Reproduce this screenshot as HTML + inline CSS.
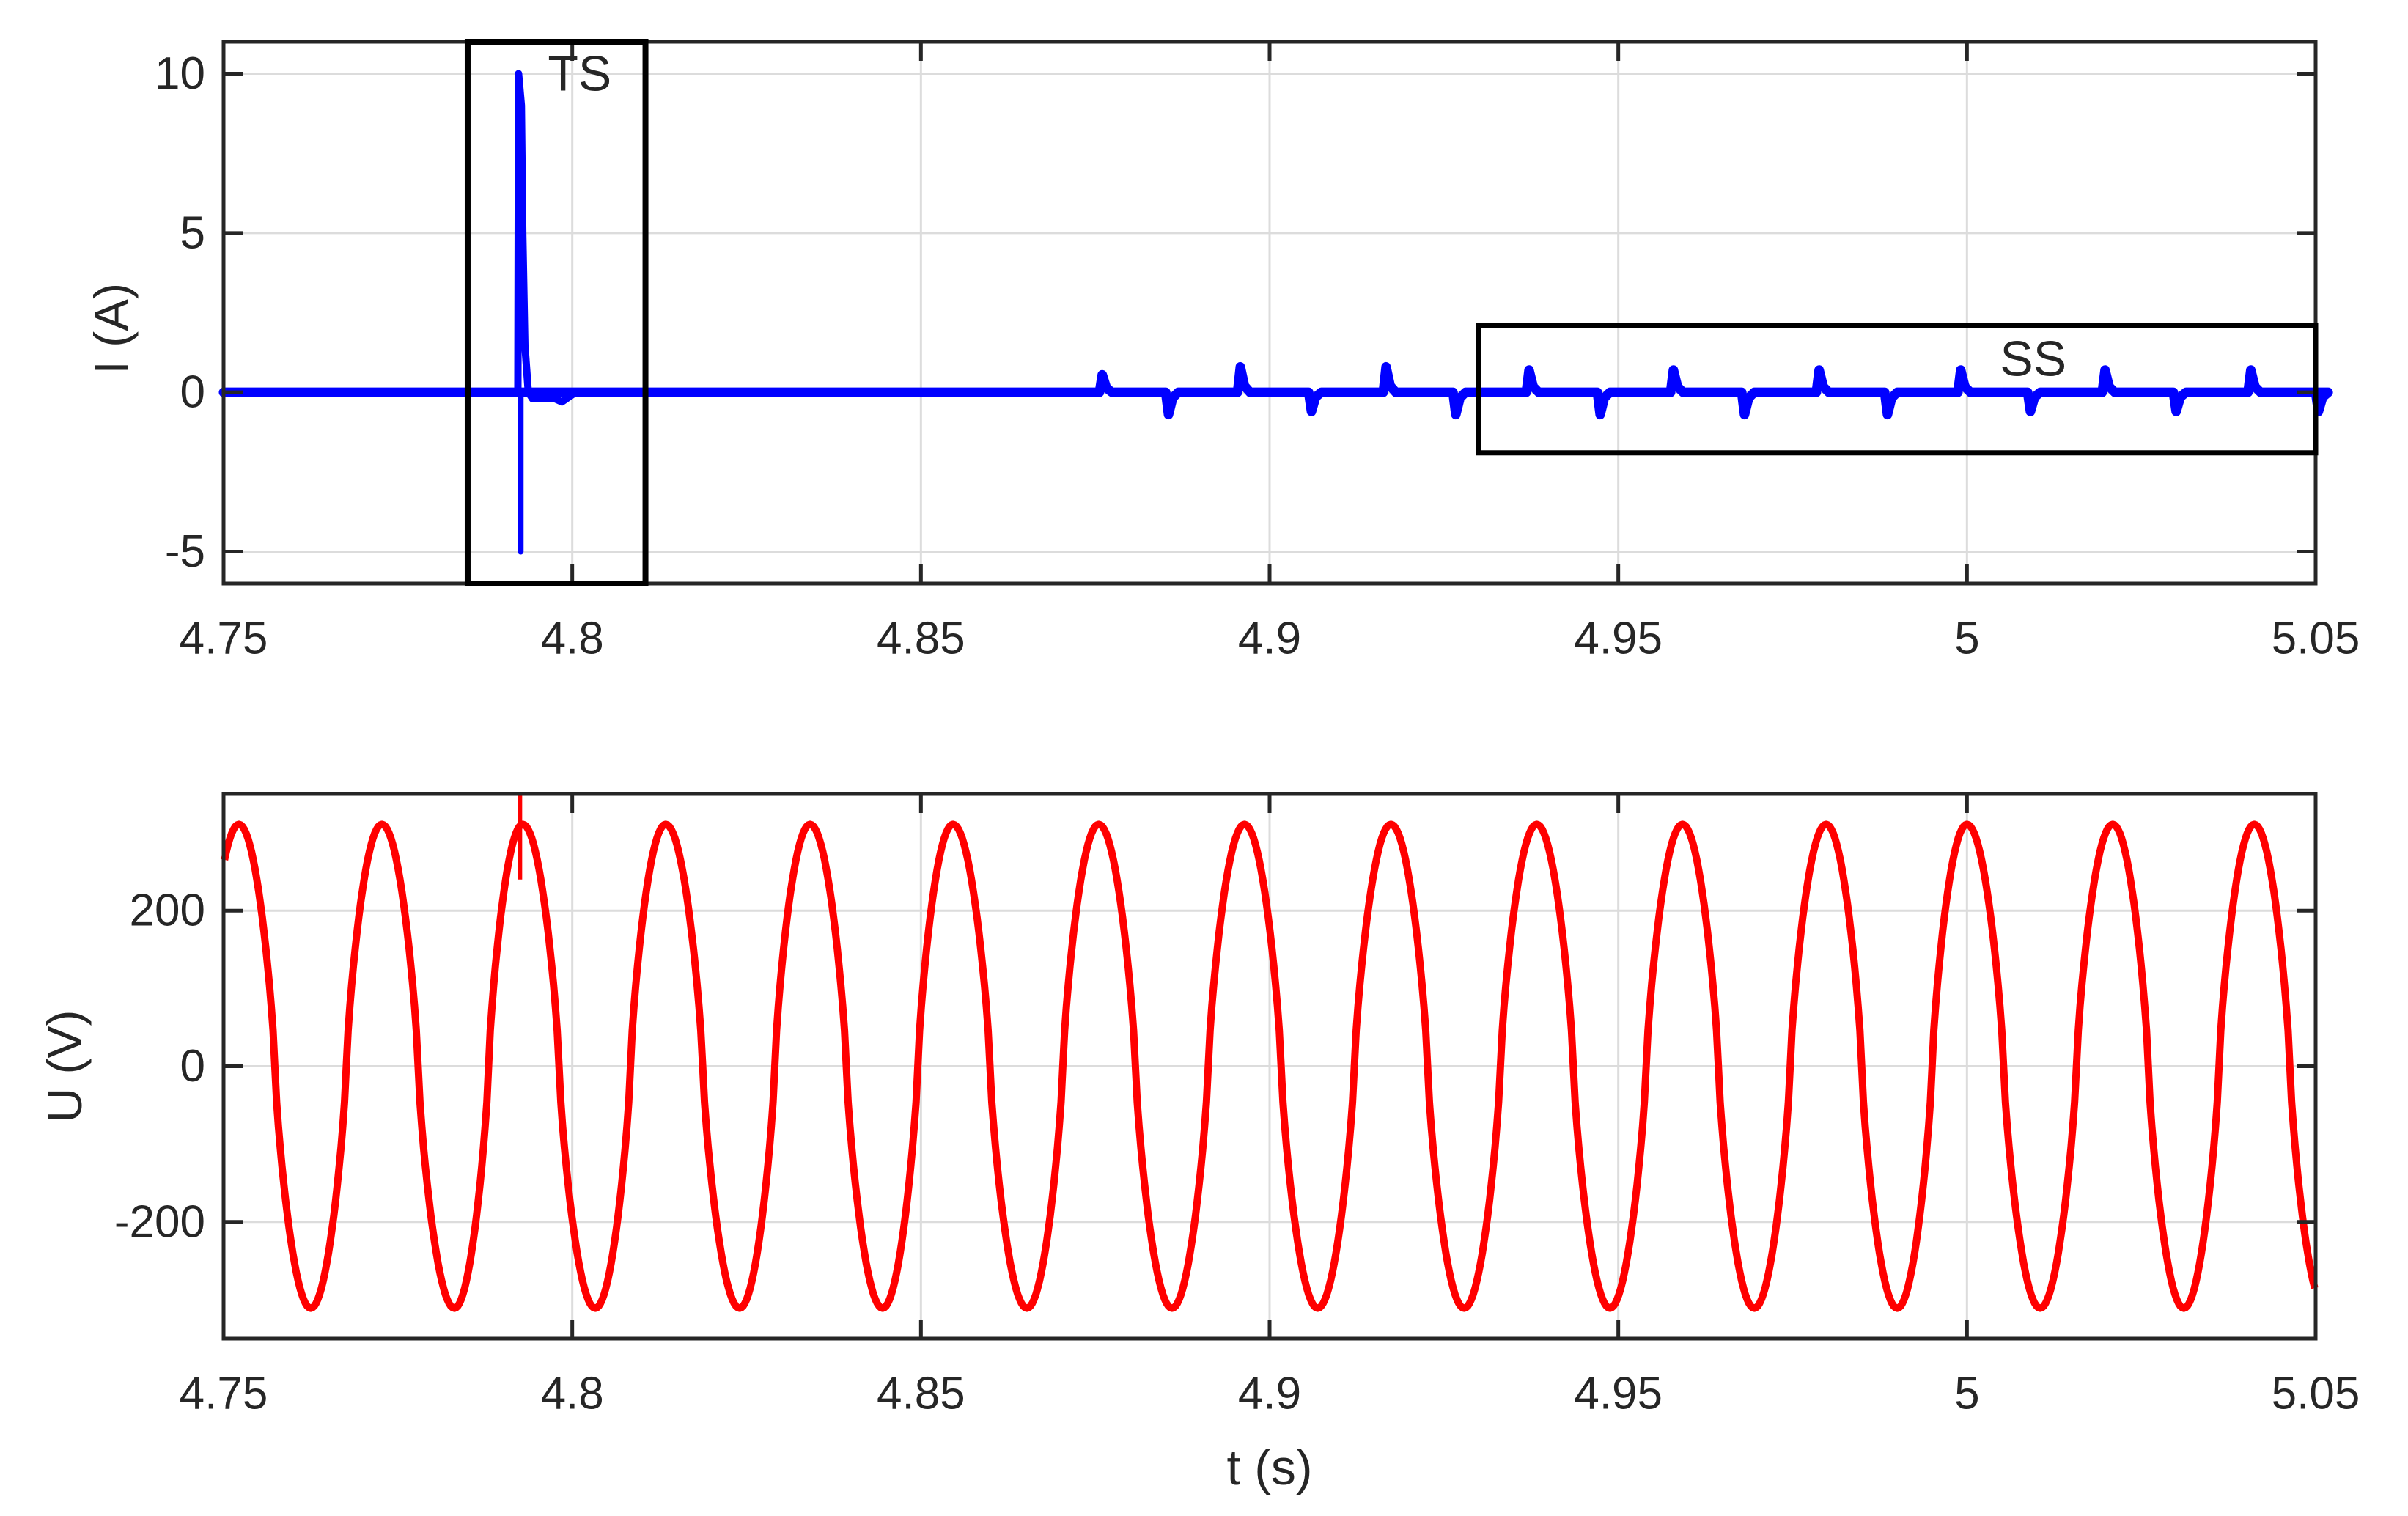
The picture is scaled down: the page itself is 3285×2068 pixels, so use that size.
<!DOCTYPE html>
<html><head><meta charset="utf-8"><style>
html,body{margin:0;padding:0;background:#fff;}
svg{display:block;font-family:"Liberation Sans",Arial,sans-serif;}
</style></head><body>
<svg id="c" width="3285" height="2068" viewBox="0 0 3285 2068"></svg>
<script>
// ---- data ----
const xTicks=[4.75,4.8,4.85,4.9,4.95,5,5.05];
const xTickLabels=["4.75","4.8","4.85","4.9","4.95","5","5.05"];
const iTicks=[-5,0,5,10];
const iTickLabels=["-5","0","5","10"];
const uTicks=[-200,0,200];
const uTickLabels=["-200","0","200"];
const tsSpikeTime=[4.7925];
const tsSpikeHigh=[10];
const tsSpikeLow=[-5];
const posSpikeTimes=[4.8760,4.8958,4.9167,4.9372,4.9579,4.9788,4.9991,5.0198,5.0407];
const posSpikeValues=[0.55,0.8,0.8,0.7,0.7,0.7,0.7,0.7,0.7];
const negSpikeTimes=[4.8855,4.9060,4.9267,4.9474,4.9681,4.9886,5.0091,5.0300,5.0504];
const negSpikeValues=[-0.7,-0.6,-0.7,-0.7,-0.7,-0.7,-0.6,-0.6,-0.6];
const uPeakTimes=[4.7522,4.7727,4.7929,4.8134,4.8341,4.8546,4.8755,4.8964,4.9174,4.9383,4.9592,4.9798,5.0000,5.0209,5.0412];
const uTroughTimes=[4.7625,4.7831,4.8033,4.8240,4.8445,4.8652,4.8860,4.9069,4.9279,4.9488,4.9695,4.9900,5.0105,5.0311,5.0514];
const uAmplitude=[311];
const uSpikeTime=[4.7925];
const uSpikeValue=[420];

// ---- layout ----
const X0=305,X1=3159;
const axTop={y0:57,y1:796,min:-6,max:11};
const axBot={y0:1083,y1:1826,min:-350,max:350};
const svg=document.getElementById('c');
const NS="http://www.w3.org/2000/svg";
function xs(t){return X0+(t-4.75)/(5.05-4.75)*(X1-X0);}
function ys(ax,v){return ax.y1-(v-ax.min)/(ax.max-ax.min)*(ax.y1-ax.y0);}
function el(tag,attrs,parent){const e=document.createElementNS(NS,tag);for(const k in attrs)e.setAttribute(k,attrs[k]);(parent||svg).appendChild(e);return e;}
function text(x,y,s,anchor,size,rot){const t=el('text',{x:x,y:y,'font-size':size||64,'text-anchor':anchor||'middle',fill:'#262626','dominant-baseline':'central'});if(rot)t.setAttribute('transform','rotate(-90 '+x+' '+y+')');t.textContent=s;return t;}

function drawAxes(ax,yt,name){
  const g=el('g',{});
  
  
  xTicks.forEach(t=>{const l=el('line',{x1:xs(t),x2:xs(t),y1:ax.y0,y2:ax.y1,stroke:'#dcdcdc','stroke-width':3},g);
    
    });
  yt.forEach(v=>{const l=el('line',{x1:X0,x2:X1,y1:ys(ax,v),y2:ys(ax,v),stroke:'#dcdcdc','stroke-width':3},g);
    
    });
  return g;
}
function drawFrame(ax,yt,ytl,name){
  const g=el('g',{});
  
  
  el('rect',{x:X0,y:ax.y0,width:X1-X0,height:ax.y1-ax.y0,fill:'none',stroke:'#262626','stroke-width':5},g);
  xTicks.forEach((t,i)=>{
    el('line',{x1:xs(t),x2:xs(t),y1:ax.y1,y2:ax.y1-26,stroke:'#262626','stroke-width':5},g);
    el('line',{x1:xs(t),x2:xs(t),y1:ax.y0,y2:ax.y0+26,stroke:'#262626','stroke-width':5},g);
    const tl=text(xs(t),ax.y1+75,xTickLabels[i],'middle',62);
    
    
  });
  yt.forEach((v,i)=>{
    el('line',{x1:X0,x2:X0+26,y1:ys(ax,v),y2:ys(ax,v),stroke:'#262626','stroke-width':5},g);
    el('line',{x1:X1,x2:X1-26,y1:ys(ax,v),y2:ys(ax,v),stroke:'#262626','stroke-width':5},g);
    const tl=text(X0-25,ys(ax,v),ytl[i],'end',62);
    
    
  });
}

// ---- top: current ----
drawAxes(axTop,iTicks,'current');
let pts=[[4.75,0]];
const ev=[];
posSpikeTimes.forEach((t,i)=>ev.push([t,posSpikeValues[i]]));
negSpikeTimes.forEach((t,i)=>ev.push([t,negSpikeValues[i]]));
ev.sort((a,b)=>a[0]-b[0]);
ev.forEach(e=>{pts.push([e[0]-0.0004,0]);pts.push([e[0],e[1]]);pts.push([e[0]+0.0006,e[1]*0.25]);pts.push([e[0]+0.0014,0]);});
pts.push([5.05,0]);
const base=el('polyline',{points:pts.map(p=>xs(p[0])+','+ys(axTop,p[1])).join(' '),fill:'none',stroke:'#0000ff','stroke-width':13,'stroke-linejoin':'round','stroke-linecap':'round'});


const ts=tsSpikeTime[0];
const sp=[[ts-0.0003,0],[ts-0.0002,tsSpikeHigh[0]],[ts+0.0002,tsSpikeHigh[0]*0.9],[ts+0.0004,tsSpikeHigh[0]*0.5],[ts+0.0007,tsSpikeHigh[0]*0.15],[ts+0.0012,0],[ts+0.0018,-0.2],[ts+0.005,-0.2],[ts+0.006,-0.3],[ts+0.008,0]];
const spk=el('polyline',{points:sp.map(p=>xs(p[0])+','+ys(axTop,p[1])).join(' '),fill:'none',stroke:'#0000ff','stroke-width':10,'stroke-linejoin':'round','stroke-linecap':'round'});


const neg=el('line',{x1:xs(ts+0.0001),x2:xs(ts+0.0001),y1:ys(axTop,0),y2:ys(axTop,tsSpikeLow[0]),stroke:'#0000ff','stroke-width':8,'stroke-linecap':'round'});


drawFrame(axTop,iTicks,iTickLabels,'current');
const tsBox=el('rect',{x:xs(4.785),y:axTop.y0,width:xs(4.8105)-xs(4.785),height:axTop.y1-axTop.y0,fill:'none',stroke:'#000','stroke-width':8});


const tsT=text(xs(4.7965),ys(axTop,10),'TS','start',68);


const ssBox=el('rect',{x:xs(4.930),y:ys(axTop,2.1),width:X1-xs(4.930),height:ys(axTop,-1.9)-ys(axTop,2.1),fill:'none',stroke:'#000','stroke-width':7});


const ssT=text(xs(5.0095),ys(axTop,1.05),'SS','middle',68);


const il=text(152,ys(axTop,2),'I (A)','middle',66,true);



// ---- bottom: voltage ----
drawAxes(axBot,uTicks,'voltage');
const ex=[];
uPeakTimes.forEach(t=>ex.push([t,1]));
uTroughTimes.forEach(t=>ex.push([t,-1]));
ex.sort((a,b)=>a[0]-b[0]);
const A=uAmplitude[0];
const firstE=[ex[0][0]-(ex[1][0]-ex[0][0]),-ex[0][1]];
const lastE=[ex[ex.length-1][0]+(ex[ex.length-1][0]-ex[ex.length-2][0]),-ex[ex.length-1][1]];
const allE=[firstE].concat(ex,[lastE]);
let vp=[];
for(let i=0;i<allE.length-1;i++){
  const t0=allE[i][0],s0=allE[i][1],t1=allE[i+1][0];
  for(let k=0;k<40;k++){
    const f=k/40,t=t0+f*(t1-t0);
    if(t<4.75||t>5.05)continue;
    const c=Math.cos(Math.PI*f);
    const v=s0*A*Math.sign(c)*Math.pow(Math.abs(c),0.75);
    vp.push([t,v]);
  }
}
const vl=el('polyline',{points:vp.map(p=>xs(p[0]).toFixed(1)+','+ys(axBot,p[1]).toFixed(1)).join(' '),fill:'none',stroke:'#ff0000','stroke-width':10,'stroke-linejoin':'round'});


const us=el('line',{x1:xs(uSpikeTime[0]),x2:xs(uSpikeTime[0]),y1:ys(axBot,240),y2:Math.max(axBot.y0,ys(axBot,uSpikeValue[0])),stroke:'#ff0000','stroke-width':6});


drawFrame(axBot,uTicks,uTickLabels,'voltage');
const ul=text(88,ys(axBot,0),'U (V)','middle',66,true);


const xl=text((X0+X1)/2,2002,'t (s)','middle',68);


</script>
</body></html>
